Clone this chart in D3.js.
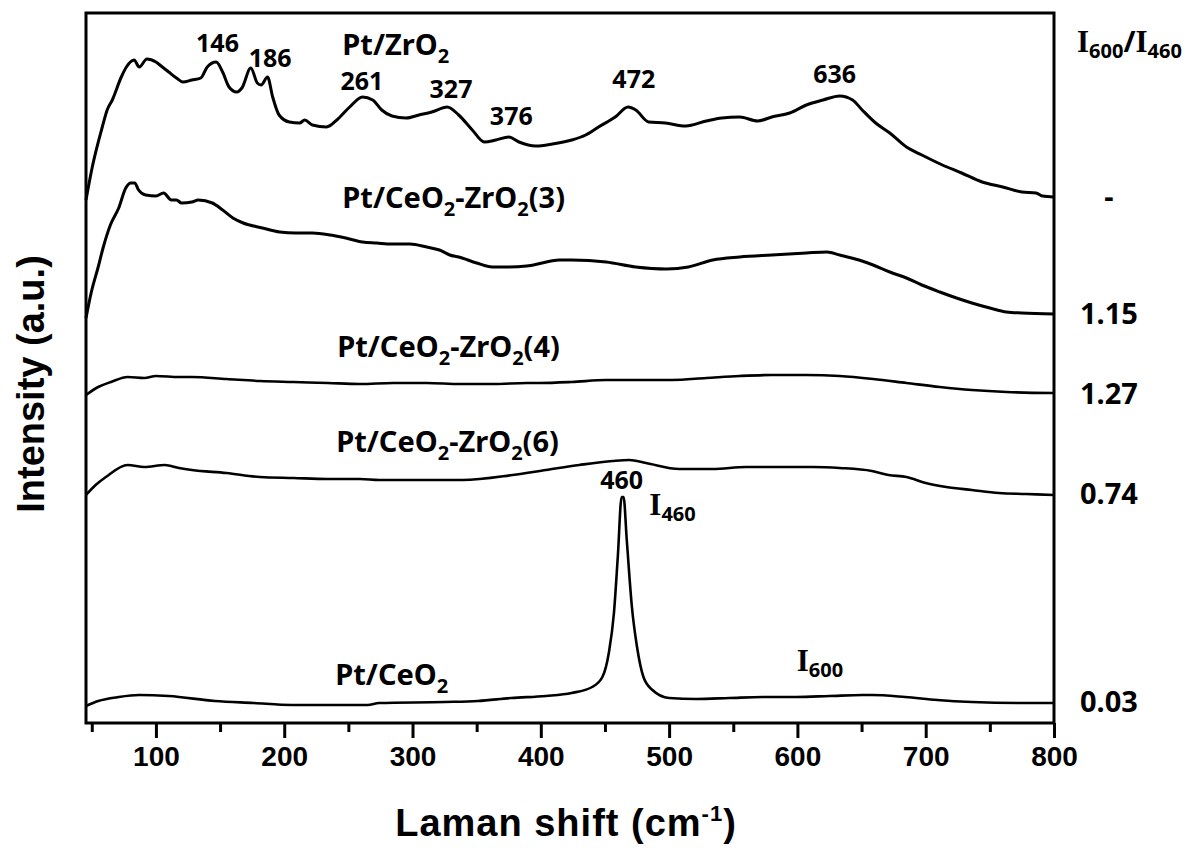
<!DOCTYPE html>
<html>
<head>
<meta charset="utf-8">
<script src="https://cdn.jsdelivr.net/npm/d3@7"></script>
<style>
  body { margin: 0; background: #fff; }
  svg { display: block; }
</style>
</head>
<body>
<div id="chart"></div>
<script>
//Spectra: [Raman shift (cm-1), intensity (a.u.)]
var ptZrO2 = [
  [45.5,523],[50.4,556],[58.2,596],[62,613],[66,623],[73,646],[77,656],[83,663],[87,656],[93,664],
  [100,661],[105,656],[110,651],[116,645],[121,641],[128,643],[135,645],[140,656],[147,661],[152,651],
  [157,636],[163,631],[167,635],[174,655],[179,640],[182,638],[187,646],[191,626],[196,608],[204,601],
  [212,600],[216,603],[222,598],[233,596],[241,603],[251,616],[261,626],[269,623],[276,613],[284,607],
  [295,605],[305,608],[315,611],[327,616],[336,608],[346.6,593],[356,581],[365,583],[375,586],[383,581],
  [396,577],[409,579],[424,583],[435,588],[445,596],[458,606],[468,616],[474,613],[484,601],[497,600],
  [513,597],[529,602],[541,605],[555,606],[569,602],[580,606],[594,610],[607,618],[620,623],[633,627],
  [643,623],[650.5,613],[661,600],[672,590],[685,576],[697,568],[713,558],[728,550],[744,541],[760,536],
  [775,531],[786,530],[791,527],[800,526]
];
var ptCZ3 = [
  [45.5,405],[49.5,430],[55,456],[59,476],[64.5,498],[71,515],[76.5,535],[80.5,540],[83.5,540],[86.5,533],
  [92,528],[100,527],[106,530],[112,523],[116,523],[120,520],[128,521],[133,523],[144,520],[152,513],
  [160,505],[168,500],[183,495],[196.5,491],[209,490],[222,490],[236,488],[248,485],[261,481],[272,480],
  [284,479],[298,479],[311,476],[321,473],[329,468],[336,466],[350,460],[362,456],[375,456],[389,457],
  [401,460],[414,463],[424,463],[451,461],[474,456],[498,454],[515,456],[534,463],[555,466],[580,468],
  [607,470],[623,471],[633,468],[648,463],[659,458],[672,451],[685,445],[697,438],[711,431],[724,425],
  [736,420],[750,415],[763,411],[775,410],[800,409]
];
var ptCZ4 = [
  [45.5,328],[55,336],[65,341],[78,346],[91,345],[100,347],[118,346],[128,346],[155,344],[181,342],
  [207,341],[234,340],[259,339],[285,340],[311,340],[337,339],[363,339],[389,340],[399,340],[424,341],
  [451,343],[476,343],[502,343],[529,345],[555,347],[580,348],[607,348],[633,347],[659,344],[685,340],
  [711,336],[736,333],[763,331],[800,330]
];
var ptCZ6 = [
  [45.5,228],[53,238],[61,246],[78,258],[91,256],[107,258],[118,255],[128,253],[155,250],[181,246],
  [207,245],[234,244],[259,244],[274,243],[300,243],[339,243],[378,248],[404,253],[430,258],[456,262],
  [469,263],[482,260],[508,254],[534,254],[560,256],[586,256],[612,256],[633,255],[658,252],[671,248],
  [685,246],[700,240],[716,236],[736,233],[757,230],[778,229],[800,228]
];
var ptCeO2 = [
  [45.5,17],[55,22],[71,26],[87,28],[110,27],[146,22],[176,20],[206,18],[265,18],[274,20],
  [325,21],[351,22],[377,25],[404,27],[424,30],[440,36],[448,46],[453,70],[457,110],[460,166],
  [463,226],[464.5,226],[467,183],[471,116],[475,76],[480,46],[487,33],[500,25],[521,24],[547,25],
  [573,26],[599,26],[625,27],[651,28],[658,28],[684,26],[709,23],[736,21],[775,20],[800,20]
];
var spectra = [ptZrO2, ptCZ3, ptCZ4, ptCZ6, ptCeO2];

//Sample names: [main, subscript, rest, subscript, rest]
var sampleNames = [
  ["Pt/ZrO", "2", "", "", ""],
  ["Pt/CeO", "2", "-ZrO", "2", "(3)"],
  ["Pt/CeO", "2", "-ZrO", "2", "(4)"],
  ["Pt/CeO", "2", "-ZrO", "2", "(6)"],
  ["Pt/CeO", "2", "", "", ""]
];
var namePos = [[245.3,668],[245.3,515],[241.3,366],[240.5,271],[239.8,38]];

//Peak positions written above the Pt/ZrO2 spectrum
var peakLabels = ["146","186","261","327","376","472","636"];
var peakPos = [[148,671],[189,656],[260.5,633],[330,625],[377,598],[472.5,635],[629,640]];

//Intensity ratios on the right
var ratioLabels = ["-","1.15","1.27","0.74","0.03"];
var ratioPos = [526,409,329,229,21];

var xTicks = [100,200,300,400,500,600,700,800],
    xMinor = [50,150,250,350,450,550,650,750];

//Size of the picture
var w = 1188, h = 849,
    margin = {left: 86, right: 1054, top: 13, bottom: 723};

var svg = d3.select("#chart").append("svg")
    .attr("width", w)
    .attr("height", h);

var x = d3.scaleLinear().domain([45.5, 800]).range([margin.left, margin.right]);
var y = d3.scaleLinear().domain([0, 710]).range([margin.bottom, margin.top]);

//Spectra
var line = d3.line()
    .x(function(d) {return x(d[0]);})
    .y(function(d) {return y(d[1]);})
    .curve(d3.curveMonotoneX);

svg.append("g").attr("class","spectra")
  .selectAll("path")
  .data(spectra).enter().append("path")
    .attr("d", line)
    .style("fill", "none")
    .style("stroke", "#000")
    .style("stroke-width", function(d, i) {return i < 2 ? 3 : 2.6;})
    .style("stroke-linejoin", "round");

//Frame
svg.append("rect")
    .attr("x", margin.left)
    .attr("y", margin.top)
    .attr("width", margin.right - margin.left)
    .attr("height", margin.bottom - margin.top)
    .style("fill", "none")
    .style("stroke", "#000")
    .style("stroke-width", 3);

//Bottom axis, major and minor ticks
var axisG = svg.append("g")
    .attr("transform", "translate(0," + margin.bottom + ")");
axisG.call(d3.axisBottom(x).tickValues(xTicks).tickSize(15).tickPadding(8).tickFormat(d3.format("d")));
axisG.select(".domain").remove();
axisG.selectAll(".tick line").style("stroke-width", 3);
axisG.selectAll(".tick text")
    .style("font-family", "'Liberation Sans', Arial, sans-serif")
    .style("font-weight", "bold")
    .style("font-size", "28px")
    .style("fill", "#000");

var minorG = svg.append("g")
    .attr("transform", "translate(0," + margin.bottom + ")");
minorG.call(d3.axisBottom(x).tickValues(xMinor).tickSize(9).tickFormat(""));
minorG.select(".domain").remove();
minorG.selectAll(".tick line").style("stroke-width", 3);

//Axis titles
var xTitle = svg.append("text")
    .attr("x", 566)
    .attr("y", 836)
    .attr("text-anchor", "middle")
    .style("font-family", "'Liberation Sans', Arial, sans-serif")
    .style("font-weight", "bold")
    .style("font-size", "38px")
    .style("letter-spacing", "1px");
xTitle.append("tspan").text("Laman shift (cm");
xTitle.append("tspan").attr("dy", -15).style("font-size", "22px").text("-1");
xTitle.append("tspan").attr("dy", 15).text(")");

svg.append("text")
    .attr("transform", "translate(44,384) rotate(-90)")
    .attr("text-anchor", "middle")
    .style("font-family", "'Liberation Sans', Arial, sans-serif")
    .style("font-weight", "bold")
    .style("font-size", "38px")
    .text("Intensity (a.u.)");

//Sample names
var labelFont = "'Noto Sans', 'Open Sans', sans-serif";
var names = svg.append("g").selectAll("text")
    .data(sampleNames).enter().append("text")
    .attr("x", function(d, i) {return x(namePos[i][0]);})
    .attr("y", function(d, i) {return y(namePos[i][1]);})
    .style("font-family", labelFont)
    .style("font-weight", "bold")
    .style("font-size", "29px");
names.each(function(d) {
  var t = d3.select(this);
  t.append("tspan").text(d[0]);
  t.append("tspan").attr("dy", 8).style("font-size", "20px").text(d[1]);
  if (d[2]) {
    t.append("tspan").attr("dy", -8).text(d[2]);
    t.append("tspan").attr("dy", 8).style("font-size", "20px").text(d[3]);
    t.append("tspan").attr("dy", -8).text(d[4]);
  }
});

//Peak labels
svg.append("g").selectAll("text")
    .data(peakLabels).enter().append("text")
    .attr("x", function(d, i) {return x(peakPos[i][0]);})
    .attr("y", function(d, i) {return y(peakPos[i][1]);})
    .attr("text-anchor", "middle")
    .style("font-family", labelFont)
    .style("font-weight", "bold")
    .style("font-size", "25px")
    .text(function(d) {return d;});

//CeO2 F2g peak
svg.append("text")
    .attr("x", x(463))
    .attr("y", y(234))
    .attr("text-anchor", "middle")
    .style("font-family", labelFont)
    .style("font-weight", "bold")
    .style("font-size", "25px")
    .text("460");

//I labels with serif I and subscript
function iLabel(px, py, sub) {
  var t = svg.append("text")
      .attr("x", px)
      .attr("y", py)
      .style("font-weight", "bold");
  t.append("tspan")
      .style("font-family", "'Liberation Serif', 'DejaVu Serif', serif")
      .style("font-size", "31px")
      .text("I");
  t.append("tspan")
      .attr("dy", 6)
      .style("font-family", labelFont)
      .style("font-size", "20px")
      .text(sub);
  return t;
}
iLabel(x(484.6), y(208), "460");
iLabel(x(599.5), y(52), "600");

var ratioHead = svg.append("text")
    .attr("x", 1077)
    .attr("y", 52)
    .style("font-weight", "bold");
ratioHead.append("tspan").style("font-family", "'Liberation Serif', serif").style("font-size", "31px").text("I");
ratioHead.append("tspan").attr("dy", 6).style("font-family", labelFont).style("font-size", "20px").text("600");
ratioHead.append("tspan").attr("dy", -6).style("font-family", labelFont).style("font-size", "29px").text("/");
ratioHead.append("tspan").style("font-family", "'Liberation Serif', serif").style("font-size", "31px").text("I");
ratioHead.append("tspan").attr("dy", 6).style("font-family", labelFont).style("font-size", "20px").text("460");

//Ratios
svg.append("g").selectAll("text")
    .data(ratioLabels).enter().append("text")
    .attr("x", 1109)
    .attr("y", function(d, i) {return y(ratioPos[i]);})
    .attr("dy", "0.36em")
    .attr("text-anchor", "middle")
    .style("font-family", labelFont)
    .style("font-weight", "bold")
    .style("font-size", "29px")
    .text(function(d) {return d;});
</script>
</body>
</html>
